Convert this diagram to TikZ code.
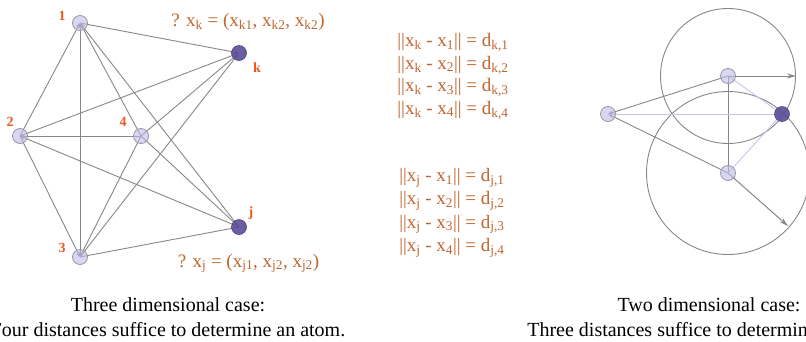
\documentclass[tikz,border=0pt]{standalone}
\usepackage{fontspec}
\setmainfont{Liberation Serif}
\usetikzlibrary{arrows.meta,backgrounds}
\definecolor{nodefill}{RGB}{190,187,230}
\definecolor{nodedraw}{RGB}{150,150,165}
\definecolor{darkfill}{RGB}{92,77,150}
\definecolor{edgegray}{RGB}{135,135,135}
\definecolor{lavline}{RGB}{200,196,238}
\definecolor{numcol}{RGB}{238,88,28}
\definecolor{eqcol}{RGB}{192,100,48}
\begin{document}
\begin{tikzpicture}[x=1pt,y=-1pt,
  lnode/.style={circle,draw=nodedraw,line width=0.8pt,fill=nodefill,fill opacity=0.6,draw opacity=1,minimum size=15pt,inner sep=0pt},
  dnode/.style={circle,draw=darkfill!85!black,line width=0.6pt,fill=darkfill,fill opacity=0.9,minimum size=15pt,inner sep=0pt},
  edge/.style={draw=edgegray,line width=0.9pt},
  tipped/.style={edge,-{Stealth[length=5pt,width=4pt]}},
  lav/.style={draw=lavline,line width=0.9pt,-{Stealth[length=5pt,width=4pt]}},
  radarrow/.style={draw=edgegray,line width=1pt,-{Stealth[length=9pt,width=5pt]}},
  ring/.style={draw=edgegray,line width=0.9pt},
  num/.style={text=numcol,font=\bfseries\fontsize{14}{14}\selectfont,inner sep=0pt},
  eq/.style={text=eqcol,font=\fontsize{19}{19}\selectfont,inner sep=0pt,anchor=base},
  captext/.style={text=black,font=\fontsize{20}{20}\selectfont,inner sep=0pt,anchor=base}]
\clip (0,0) rectangle (806,341);
\useasboundingbox (0,0) rectangle (806,341);

% ---------- left: three dimensional case ----------
\node[lnode] (n1) at (80,23) {};
\node[lnode] (n2) at (20,136) {};
\node[lnode] (n3) at (80,257) {};
\node[lnode] (n4) at (141,136) {};
\node[dnode] (nk) at (239,53) {};
\node[dnode] (nj) at (239,227) {};

\begin{scope}[on background layer]
  \draw[tipped] (n1.center) -- (nk.center);
  \draw[tipped] (n2.center) -- (nk.center);
  \draw[tipped] (n3.center) -- (nk.center);
  \draw[tipped] (n4.center) -- (nk.center);
  \draw[tipped] (n2.center) -- (n1.center);
  \draw[tipped] (n3.center) -- (n1.center);
  \draw[tipped] (n4.center) -- (n1.center);
  \draw[tipped] (nj.center) -- (n1.center);
  \draw[tipped] (n4.center) -- (n2.center);
  \draw[tipped] (nj.center) -- (n2.center);
  \draw[tipped] (n4.center) -- (n3.center);
  \draw[tipped] (n2.center) -- (n3.center);
  \draw[edge] (n3.center) -- (nj.center);
  \draw[edge] (n4.center) -- (nj.center);
\end{scope}

\node[num] (l1) at (62,16) {1};
\node[num] (l2) at (10,122) {2};
\node[num] (l3) at (62,248) {3};
\node[num] (l4) at (123,122) {4};
\node[num] (lk) at (257,68) {k};
\node[num] (lj) at (251,213) {j};

\node[eq] (qk) at (248,26) {? x\textsubscript{k} = (x\textsubscript{k1}, x\textsubscript{k2}, x\textsubscript{k2})};
\node[eq] (qj) at (248.5,267) {? x\textsubscript{j} = (x\textsubscript{j1}, x\textsubscript{j2}, x\textsubscript{j2})};

% ---------- middle: distance equations ----------
\node[eq] (ek1) at (453,46.5) {||x\textsubscript{k} - x\textsubscript{1}|| = d\textsubscript{k,1}};
\node[eq] (ek2) at (453,69) {||x\textsubscript{k} - x\textsubscript{2}|| = d\textsubscript{k,2}};
\node[eq] (ek3) at (453,91.5) {||x\textsubscript{k} - x\textsubscript{3}|| = d\textsubscript{k,3}};
\node[eq] (ek4) at (453,114) {||x\textsubscript{k} - x\textsubscript{4}|| = d\textsubscript{k,4}};
\node[eq] (ej1) at (452,181.5) {||x\textsubscript{j} - x\textsubscript{1}|| = d\textsubscript{j,1}};
\node[eq] (ej2) at (452,204.5) {||x\textsubscript{j} - x\textsubscript{2}|| = d\textsubscript{j,2}};
\node[eq] (ej3) at (452,228) {||x\textsubscript{j} - x\textsubscript{3}|| = d\textsubscript{j,3}};
\node[eq] (ej4) at (452,251.5) {||x\textsubscript{j} - x\textsubscript{4}|| = d\textsubscript{j,4}};

% ---------- right: two dimensional case ----------
\node[lnode] (ra) at (608,114) {};
\node[lnode] (rt) at (728,76) {};
\node[lnode] (rb) at (728,173) {};
\node[dnode] (rd) at (782,114) {};
\coordinate (rte) at (796,76);
\coordinate (rbe) at (788,226);

\begin{scope}[on background layer]
  \draw[ring] (rt.center) circle[radius=67.5];
  \draw[ring] (rb.center) circle[radius=81.5];
  \draw[tipped] (rt.center) -- (ra.center);
  \draw[tipped] (rb.center) -- (ra.center);
  \draw[edge] (rt.center) -- (rb.center);
  \draw[lav] (ra.center) -- (rd.center);
  \draw[lav] (rt.center) -- (rd.center);
  \draw[lav] (rb.center) -- (rd.center);
  \draw[radarrow] (rt.center) -- (rte);
  \draw[radarrow] (rb.center) -- (rbe);
\end{scope}

% ---------- captions ----------
\node[captext] (c1a) at (168,311) {Three dimensional case:};
\node[captext] (c1b) at (168,336) {Four distances suffice to determine an atom.};
\node[captext] (c2a) at (709,311) {Two dimensional case:};
\node[captext] (c2b) at (709,336) {Three distances suffice to determine an atom.};
\end{tikzpicture}
\end{document}
